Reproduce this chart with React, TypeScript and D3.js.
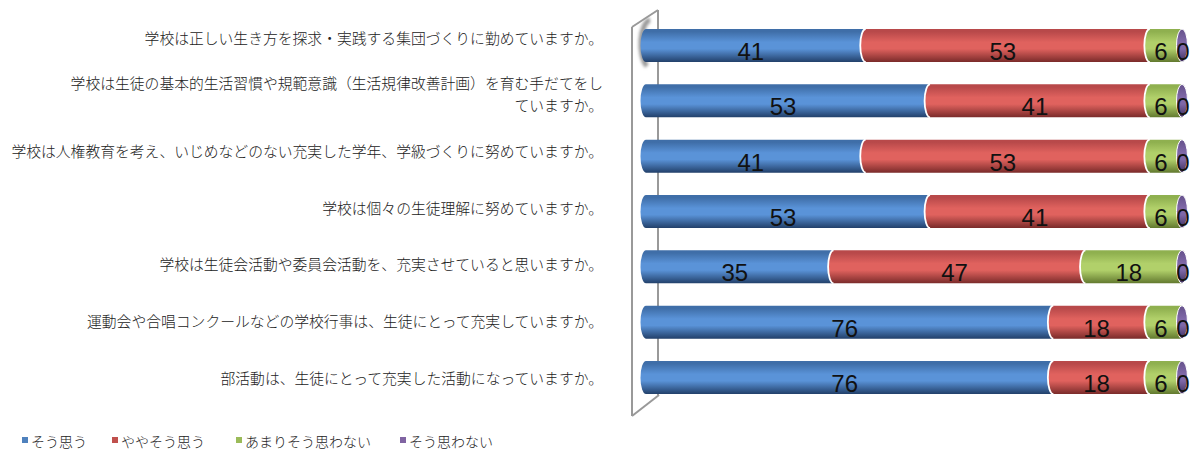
import React from "react";
import * as d3 from "d3";

const categories = [
  ["学校は正しい生き方を探求・実践する集団づくりに勤めていますか。"],
  ["学校は生徒の基本的生活習慣や規範意識（生活規律改善計画）を育む手だてをし", "ていますか。"],
  ["学校は人権教育を考え、いじめなどのない充実した学年、学級づくりに努めていますか。"],
  ["学校は個々の生徒理解に努めていますか。"],
  ["学校は生徒会活動や委員会活動を、充実させていると思いますか。"],
  ["運動会や合唱コンクールなどの学校行事は、生徒にとって充実していますか。"],
  ["部活動は、生徒にとって充実した活動になっていますか。"],
];
const seriesNames = ["そう思う", "ややそう思う", "あまりそう思わない", "そう思わない"];
const soOmou = [41, 53, 41, 53, 35, 76, 76];
const yayaSoOmou = [53, 41, 53, 41, 47, 18, 18];
const amariSoOmowanai = [6, 6, 6, 6, 18, 6, 6];
const soOmowanai = [0, 0, 0, 0, 0, 0, 0];

const colors = [
  { top: "#3f6ea8", mid: "#5a93d8", bot: "#22406a", legend: "#4f81bd" },
  { top: "#b8494a", mid: "#e0625e", bot: "#7a2b2a", legend: "#c0504d" },
  { top: "#8fb04f", mid: "#b1d06a", bot: "#62792f", legend: "#9bbb59" },
  { top: "#6a5590", mid: "#7f68a8", bot: "#3e2f5c", legend: "#8064a2" },
];

export default function App() {
  const W = 1202, H = 457;
  const rows = categories.map((c, i) => ({
    i,
    s0: soOmou[i],
    s1: yayaSoOmou[i],
    s2: amariSoOmowanai[i],
    s3: soOmowanai[i],
  }));
  const stacked = d3.stack<any>().keys(["s0", "s1", "s2", "s3"])(rows);

  const x = d3.scaleLinear().domain([0, 100]).range([646, 1182]);
  const barH = 33;
  const y = d3.scalePoint<number>().domain(rows.map((r) => r.i)).range([45.5, 377.5]);
  const yLabel = d3.scalePoint<number>().domain(rows.map((r) => r.i)).range([37, 377]);
  const rx = 5.5;
  const ry = barH / 2;

  const segPath = (x0: number, x1: number, cy: number) => {
    const t = cy - ry, b = cy + ry;
    return `M${x0},${t} L${x1},${t} L${x1},${b} L${x0},${b} A${rx},${ry} 0 0 1 ${x0},${t} Z`;
  };
  const capArc = (x0: number, cy: number) =>
    `M${x0},${cy - ry} A${rx},${ry} 0 0 0 ${x0},${cy + ry}`;

  const labelFont = "'Noto Sans CJK JP', sans-serif";

  return (
    <svg width={W} height={H} style={{ display: "block", position: "absolute", left: 0, top: 0 }}>
      <defs>
        {colors.map((c, k) => (
          <linearGradient key={k} id={`g${k}`} x1="0" y1="0" x2="0" y2="1">
            <stop offset="0" stopColor={c.top} />
            <stop offset="0.08" stopColor={c.top} />
            <stop offset="0.4" stopColor={c.mid} />
            <stop offset="0.6" stopColor={c.mid} />
            <stop offset="1" stopColor={c.bot} />
          </linearGradient>
        ))}
        <filter id="blur" x="-50%" y="-50%" width="200%" height="200%">
          <feGaussianBlur stdDeviation="1.8" />
        </filter>
      </defs>
      <rect width={W} height={H} fill="#fff" />

      {/* 3D wall */}
      <g stroke="#999" strokeWidth={2} fill="none">
        <line x1={658} y1={10} x2={658} y2={395} />
        <line x1={632} y1={27} x2={658} y2={10} />
        <line x1={632} y1={27} x2={632} y2={416} />
        <line x1={632} y1={416} x2={659} y2={395} />
      </g>
      <path
        d={`M650,20 A10,24 0 0 0 647,66`}
        stroke="#9a9a9a"
        strokeWidth={5}
        fill="none"
        filter="url(#blur)"
      />

      {/* bars */}
      {rows.map((r) => {
        const cy = y(r.i)!;
        return (
          <g key={r.i}>
            {stacked.map((s, k) => {
              const d = s[r.i];
              const x0 = x(d[0]), x1 = x(d[1]);
              if (k === 3) return null;
              return (
                <g key={k}>
                  <path d={segPath(x0, x1, cy)} fill={`url(#g${k})`} />
                  {k > 0 && <path d={capArc(x0, cy)} stroke="#fff" strokeWidth={1.8} fill="none" />}
                </g>
              );
            })}
            {(() => {
              const d = stacked[3][r.i];
              const x0 = x(d[0]), x1 = x(d[1]);
              return (
                <g>
                  {x1 > x0 && <path d={segPath(x0, x1, cy)} fill="url(#g3)" />}
                  <ellipse cx={x1} cy={cy} rx={rx} ry={ry} fill="url(#g3)" stroke="#fff" strokeWidth={1} />
                </g>
              );
            })()}
            {stacked.map((s, k) => {
              const d = s[r.i];
              const v = d[1] - d[0];
              const x0 = x(d[0]), x1 = x(d[1]);
              const lx = v === 0 ? x1 + 1 : (x0 + x1) / 2 - 5;
              return (
                <text
                  key={`t${k}`}
                  x={lx}
                  y={cy + 6}
                  textAnchor="middle"
                  dominantBaseline="central"
                  fontFamily="'Liberation Sans', Arial, sans-serif"
                  fontSize={24}
                  fill="#111"
                >
                  {v}
                </text>
              );
            })}
          </g>
        );
      })}

      {/* category labels */}
      {categories.map((lines, i) => {
        const cy = yLabel(i)!;
        const lh = 22;
        const start = cy - ((lines.length - 1) * lh) / 2;
        return (
          <text
            key={i}
            textAnchor="end"
            fontFamily={labelFont}
            fontSize={14.8}
            fontWeight={300}
            fill="#222"
          >
            {lines.map((ln, j) => (
              <tspan key={j} x={603} y={start + j * lh} dominantBaseline="central">
                {ln}
              </tspan>
            ))}
          </text>
        );
      })}

      {/* legend */}
      {seriesNames.map((n, k) => {
        const lx = [22, 112, 236, 400][k];
        return (
          <g key={n}>
            <rect x={lx} y={437} width={6} height={6} fill={colors[k].legend} />
            <text x={lx + 9} y={441} dominantBaseline="central" fontFamily={labelFont} fontSize={14} fontWeight={300} fill="#222">
              {n}
            </text>
          </g>
        );
      })}
    </svg>
  );
}
